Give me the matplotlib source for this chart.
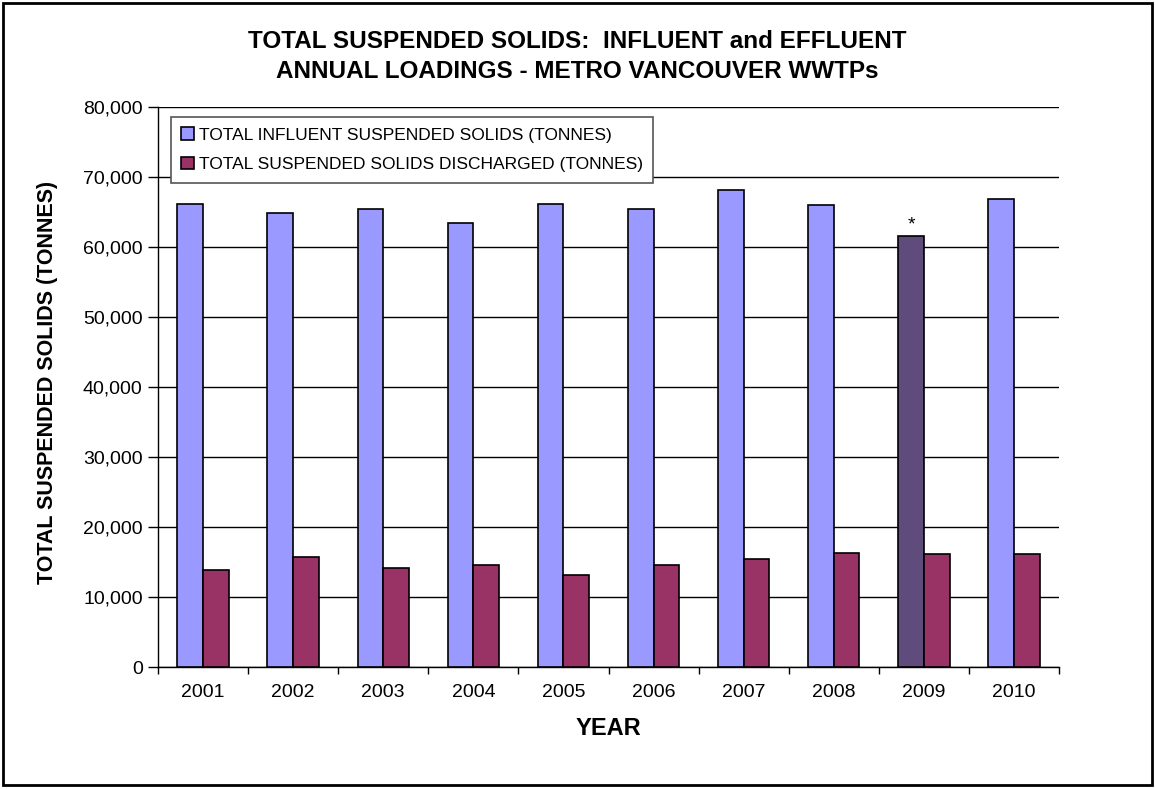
import matplotlib.pyplot as plt
import numpy as np
from matplotlib.patches import Rectangle
from matplotlib.ticker import FuncFormatter

years = ['2001', '2002', '2003', '2004', '2005', '2006', '2007', '2008', '2009', '2010']
influent = [66150, 64900, 65400, 63500, 66200, 65500, 68100, 66000, 61600, 66800]
discharged = [13800, 15650, 14100, 14600, 13200, 14600, 15400, 16250, 16150, 16150]
flagged_year = '2009'

plt.rcParams['font.family'] = ['Liberation Sans', 'DejaVu Sans']

fig = plt.figure(figsize=(11.55, 7.89), dpi=100)
ax = fig.add_axes([158 / 1155, 1 - 667 / 789, (1059 - 158) / 1155, (667 - 107) / 789])

x = np.arange(len(years))
w = 0.2857
in_colors = ['#5F4B7C' if y == flagged_year else '#9999FF' for y in years]
ax.bar(x - w / 2, influent, w, color=in_colors, edgecolor='black', linewidth=1.2,
       label='TOTAL INFLUENT SUSPENDED SOLIDS (TONNES)', zorder=3)
ax.bar(x + w / 2, discharged, w, color='#993366', edgecolor='black', linewidth=1.2,
       label='TOTAL SUSPENDED SOLIDS DISCHARGED (TONNES)', zorder=3)

# asterisk over the flagged year
i = years.index(flagged_year)
ax.text(x[i] - w / 2, influent[i] + 300, '*', ha='center', va='bottom', fontsize=14)

ax.set_xlim(-0.5, len(years) - 0.5)
ax.set_ylim(0, 80000)
ax.set_yticks(np.arange(0, 80001, 10000))
ax.yaxis.set_major_formatter(FuncFormatter(lambda v, p: f'{int(v):,}'))
ax.grid(axis='y', color='black', linewidth=1)
ax.set_axisbelow(True)

ax.set_xticks(np.arange(-0.5, len(years), 1))
ax.set_xticklabels([])
ax.set_xticks(x, minor=True)
ax.set_xticklabels(years, minor=True)
ax.tick_params(axis='x', which='major', length=5, width=1, direction='out')
ax.tick_params(axis='x', which='minor', length=0, pad=12, labelsize=14)
ax.tick_params(axis='y', length=7, width=1, labelsize=14, pad=4)

for s in ['top', 'right']:
    ax.spines[s].set_visible(False)
for s in ['left', 'bottom']:
    ax.spines[s].set_linewidth(1)

ax.set_xlabel('YEAR', fontsize=17, fontweight='bold', labelpad=12)
fig.text(48 / 1155, 1 - 382 / 789, 'TOTAL SUSPENDED SOLIDS (TONNES)', rotation=90,
         ha='center', va='center', fontsize=15.5, fontweight='bold')

fig.text(0.5, 1 - 41 / 789, 'TOTAL SUSPENDED SOLIDS:  INFLUENT and EFFLUENT',
         ha='center', va='center', fontsize=17.5, fontweight='bold')
fig.text(0.5, 1 - 71 / 789, 'ANNUAL LOADINGS - METRO VANCOUVER WWTPs',
         ha='center', va='center', fontsize=17.5, fontweight='bold')

leg = ax.legend(loc='upper left', bbox_to_anchor=(171 / 1155, 1 - 117 / 789),
                bbox_transform=fig.transFigure, fontsize=12.5, fancybox=False,
                edgecolor='#555555', framealpha=1, handlelength=0.7, handleheight=0.7,
                handletextpad=0.3, borderpad=0.6, labelspacing=0.85, borderaxespad=0)
leg.get_frame().set_linewidth(1.2)

# outer border of the chart
fig.patches.append(Rectangle((3 / 1155, 4 / 789), 1149 / 1155, 782 / 789,
                             transform=fig.transFigure, fill=False,
                             edgecolor='black', linewidth=2))

fig.savefig('out.png', dpi=100)
